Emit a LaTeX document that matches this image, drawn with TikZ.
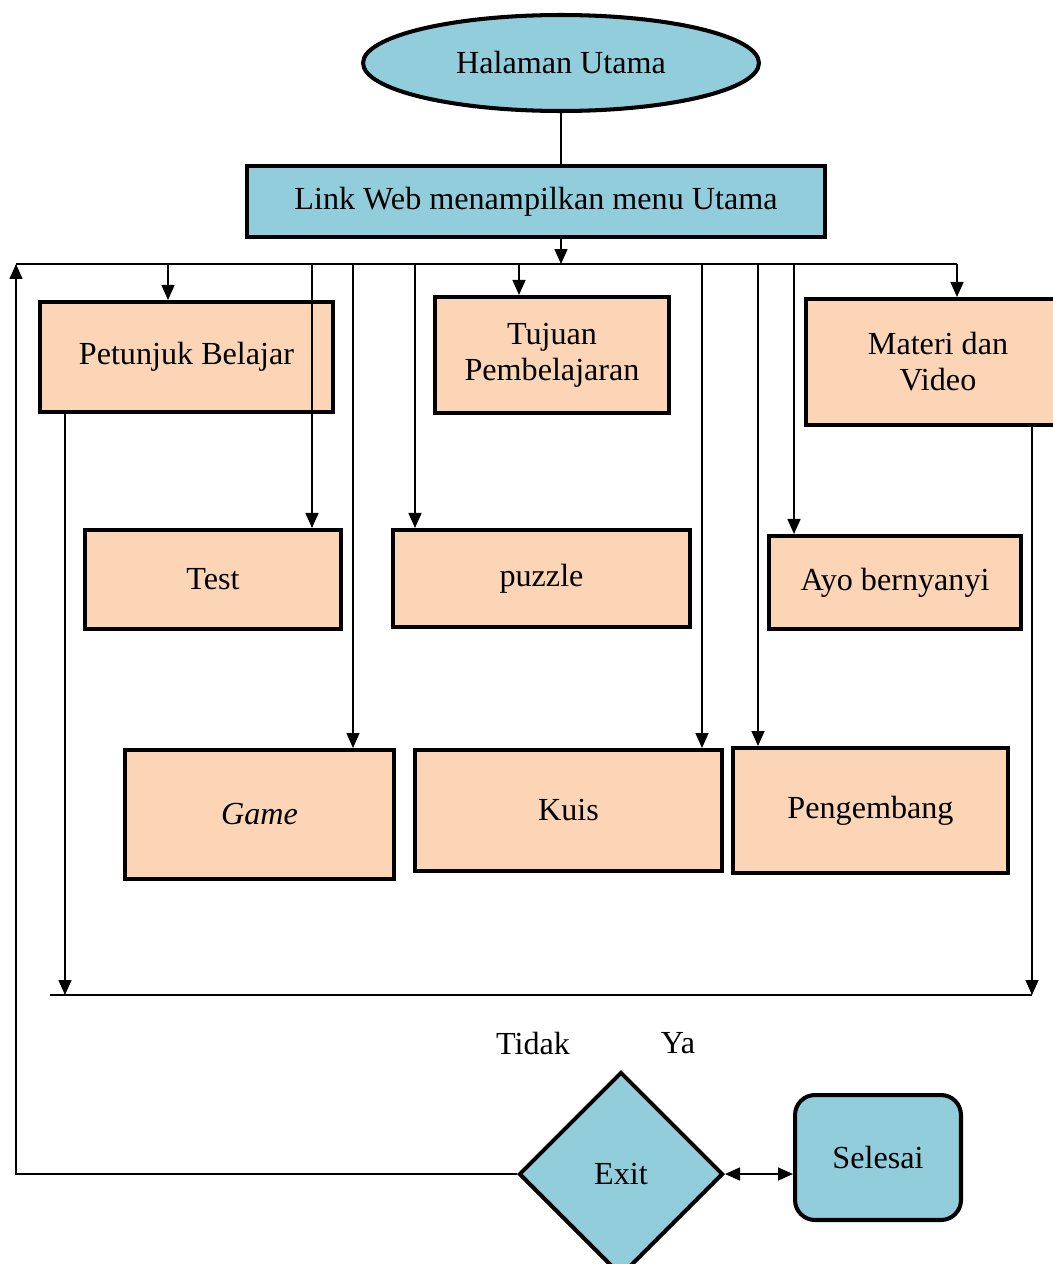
\documentclass[tikz,border=0pt]{standalone}
\usepackage{fontspec}
\setmainfont{Liberation Serif}
\usetikzlibrary{shapes.geometric,arrows.meta}

\definecolor{birumuda}{RGB}{146,205,220}
\definecolor{peach}{RGB}{251,213,181}

\tikzset{
    biru/.style={draw, line width=2.3pt, fill=birumuda, inner sep=0pt, align=center},
    menu/.style={draw, line width=2.3pt, fill=peach, inner sep=0pt, align=center},
    arr/.style={-{Triangle[length=0.3cm,width=0.26cm]}},
    every node/.style={font=\fontsize{18.3}{20.5}\selectfont}
}

\begin{document}
\begin{tikzpicture}[x=0.02cm, y=-0.02cm, line width=0.9pt]
    \useasboundingbox (0,0) rectangle (1052,1264);

    \node[biru, ellipse, minimum width=7.92cm, minimum height=1.92cm] (utama) at (561,63) {Halaman Utama};
    \node[biru, minimum width=11.56cm, minimum height=1.42cm] (link) at (536,201.5) {Link Web menampilkan menu Utama};

    \node[menu, minimum width=5.86cm, minimum height=2.2cm] (petunjuk) at (186.5,357) {Petunjuk Belajar};
    \node[menu, minimum width=4.68cm, minimum height=2.32cm] (tujuan) at (552,355) {Tujuan\\Pembelajaran};
    \node[menu, minimum width=5.28cm, minimum height=2.52cm] (materi) at (938,362) {Materi dan\\Video};
    \node[menu, minimum width=5.12cm, minimum height=1.98cm] (test) at (213,579.5) {Test};
    \node[menu, minimum width=5.94cm, minimum height=1.94cm] (puzzle) at (541.5,578.5) {puzzle};
    \node[menu, minimum width=5.04cm, minimum height=1.86cm] (ayo) at (895,582.5) {Ayo bernyanyi};
    \node[menu, minimum width=5.38cm, minimum height=2.58cm] (game) at (259.5,814.5) {\itshape Game};
    \node[menu, minimum width=6.14cm, minimum height=2.42cm] (kuis) at (568.5,810.5) {Kuis};
    \node[menu, minimum width=5.5cm, minimum height=2.5cm] (pengembang) at (870.5,810.5) {Pengembang};

    \node[biru, diamond, aspect=1, minimum size=4.08cm] (exit) at (621,1174) {Exit};
    \node[biru, rounded corners=0.4cm, minimum width=3.32cm, minimum height=2.5cm] (selesai) at (878,1157.5) {Selesai};

    \node (tidak) at (533,1043) {Tidak};
    \node (ya) at (678,1043) {Ya};

    % jalur menu
    \coordinate (busL) at (16,264);
    \coordinate (busR) at (957,264);
    \draw (busL) -- (busR);
    \draw (utama.south) -- (utama.south |- link.north);
    \draw[arr] (utama.south |- link.south) -- (utama.south |- busL);

    \foreach \x/\n in {168/petunjuk, 312/test, 353/game, 415/puzzle, 519/tujuan,
                       702/kuis, 758/pengembang, 794/ayo, 957/materi} {
        \coordinate (top-\n) at (\x,264);
        \draw[arr] (top-\n) -- (top-\n |- \n.north);
    }

    % kembali ke exit
    \coordinate (botL) at (65,995);
    \coordinate (botR) at (1032,995);
    \draw (50,995) -- (botR);
    \draw[arr] (botL |- petunjuk.south) -- (botL);
    \draw[arr] (botR |- materi.south) -- (botR);

    \draw[arr] (exit.west) -| (busL);
    \draw[{Triangle[length=0.3cm,width=0.26cm]}-{Triangle[length=0.3cm,width=0.26cm]}] (exit.east) -- (exit.east -| selesai.west);
\end{tikzpicture}
\end{document}
